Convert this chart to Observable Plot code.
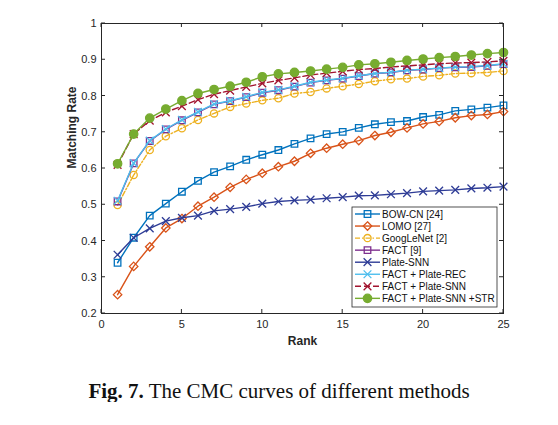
<!DOCTYPE html>
<html><head><meta charset="utf-8">
<script src="https://cdn.jsdelivr.net/npm/d3@7"></script>
<script src="https://cdn.jsdelivr.net/npm/@observablehq/plot@0.6"></script>
<style>
body{margin:0;background:#fff;}
#chart svg{display:block;}
#cap{font-family:"Liberation Serif","DejaVu Serif",serif;font-size:21px;line-height:21px;text-align:center;width:558px;padding-top:21px;color:#111;}
</style></head><body>
<div id="chart"></div>
<div id="cap"><b>Fig. 7.</b> The CMC curves of different methods</div>
<script>
const ranks = [1,2,3,4,5,6,7,8,9,10,11,12,13,14,15,16,17,18,19,20,21,22,23,24,25];
const methods = ["BOW-CN [24]","LOMO [27]","GoogLeNet [2]","FACT [9]","Plate-SNN","FACT + Plate-REC","FACT + Plate-SNN","FACT + Plate-SNN +STR"];
const bowcn = [0.340,0.409,0.470,0.503,0.536,0.566,0.590,0.606,0.624,0.638,0.651,0.668,0.683,0.695,0.701,0.712,0.722,0.728,0.731,0.742,0.748,0.759,0.763,0.768,0.774];
const lomo = [0.252,0.330,0.384,0.436,0.462,0.496,0.521,0.548,0.570,0.587,0.605,0.620,0.642,0.656,0.667,0.677,0.691,0.700,0.712,0.723,0.730,0.740,0.746,0.749,0.757];
const googlenet = [0.499,0.582,0.651,0.689,0.711,0.734,0.752,0.770,0.779,0.788,0.794,0.807,0.811,0.821,0.827,0.833,0.841,0.846,0.848,0.854,0.857,0.862,0.863,0.865,0.869];
const fact = [0.509,0.614,0.676,0.708,0.733,0.755,0.777,0.786,0.797,0.809,0.816,0.826,0.837,0.843,0.848,0.855,0.862,0.865,0.871,0.873,0.877,0.879,0.880,0.883,0.888];
const plateSNN = [0.362,0.409,0.435,0.455,0.464,0.470,0.483,0.488,0.494,0.503,0.509,0.512,0.514,0.518,0.521,0.525,0.526,0.529,0.532,0.537,0.539,0.541,0.545,0.547,0.550];
const factRec = [0.511,0.615,0.677,0.709,0.734,0.756,0.778,0.787,0.798,0.810,0.817,0.827,0.838,0.844,0.849,0.856,0.862,0.866,0.871,0.874,0.877,0.880,0.881,0.884,0.889];
const factSNN = [0.610,0.695,0.732,0.755,0.772,0.790,0.805,0.815,0.825,0.835,0.843,0.850,0.858,0.863,0.868,0.873,0.876,0.880,0.883,0.886,0.889,0.891,0.892,0.894,0.897];
const factSNNSTR = [0.613,0.695,0.739,0.764,0.787,0.807,0.818,0.827,0.838,0.853,0.861,0.865,0.869,0.874,0.879,0.886,0.889,0.893,0.898,0.902,0.906,0.909,0.913,0.917,0.920];
const xTicks = [0,5,10,15,20,25];
const yTicks = [0.2,0.3,0.4,0.5,0.6,0.7,0.8,0.9,1];

const seriesValues = [bowcn,lomo,googlenet,fact,plateSNN,factRec,factSNN,factSNNSTR];
const styles = [
  {stroke:"#0072BD", symbol:"square", fill:"none", r:3.7},
  {stroke:"#D95319", symbol:"diamond2", fill:"none", r:3.8},
  {stroke:"#EDB120", symbol:"circle", fill:"none", r:3.6, dash:"5,2,1.5,2"},
  {stroke:"#7E2F8E", symbol:"square", fill:"none", r:3.7},
  {stroke:"#2E3C96", symbol:"times", fill:"none", r:3.6},
  {stroke:"#4DBEEE", symbol:"times", fill:"none", r:3.6},
  {stroke:"#A2142F", symbol:"times", fill:"none", r:3.6, dash:"6,3"},
  {stroke:"#77AC30", symbol:"circle", fill:"#77AC30", r:4.2}
];

const series = methods.map((m,i) => ranks.map((r,j) => ({rank:r, value:seriesValues[i][j], method:m})));

const marks = [];
series.forEach((data,i) => {
  const s = styles[i];
  marks.push(Plot.line(data, {x:"rank", y:"value", stroke:s.stroke, strokeWidth:1.4, strokeDasharray:s.dash || null}));
  marks.push(Plot.dot(data, {x:"rank", y:"value", stroke:s.stroke, fill:s.fill, symbol:s.symbol, r:s.r, strokeWidth:1.3}));
});

const chart = Plot.plot({
  width:558, height:360,
  marginLeft:101, marginRight:55, marginTop:23, marginBottom:47,
  style:{fontFamily:"'Liberation Sans', Arial, sans-serif", fontSize:"11px", color:"#262626", background:"#fff"},
  x:{domain:[0,25], label:null},
  y:{domain:[0.2,1], label:null},
  marks:[
    Plot.axisX(xTicks, {tickSize:0, tickPadding:7, tickFormat:d=>String(d), fontSize:11, label:null}),
    Plot.axisY(yTicks, {tickSize:0, tickPadding:5, tickFormat:d=> d===1 ? "1" : d.toFixed(1), fontSize:11, label:null}),
    ...marks,
    Plot.frame({stroke:"#262626", strokeWidth:1}),
    Plot.text(["Rank"], {frameAnchor:"bottom", dy:31, fontWeight:"bold", fontSize:12, fill:"#262626"}),
    Plot.text(["Matching Rate"], {frameAnchor:"left", dx:-29, rotate:-90, fontWeight:"bold", fontSize:12, fill:"#262626"})
  ]
});
document.getElementById("chart").appendChild(chart);

// inward ticks using the chart's scales
const sx = chart.scale("x"), sy = chart.scale("y");
const svgSel = d3.select(chart);
const tg = svgSel.append("g").attr("stroke","#262626").attr("stroke-width",1);
const fTop = 23, fBottom = 360-47, fLeft = 101, fRight = 558-55, tl = 4;
xTicks.forEach(t => {
  const px = sx.apply(t);
  tg.append("line").attr("x1",px).attr("x2",px).attr("y1",fBottom).attr("y2",fBottom-tl);
  tg.append("line").attr("x1",px).attr("x2",px).attr("y1",fTop).attr("y2",fTop+tl);
});
yTicks.forEach(t => {
  const py = sy.apply(t);
  tg.append("line").attr("y1",py).attr("y2",py).attr("x1",fLeft).attr("x2",fLeft+tl);
  tg.append("line").attr("y1",py).attr("y2",py).attr("x1",fRight).attr("x2",fRight-tl);
});

// legend
const lg = svgSel.append("g").attr("transform","translate(352,207)").attr("text-anchor","start");
lg.append("rect").attr("width",145).attr("height",100).attr("fill","#fff").attr("stroke","#262626").attr("stroke-width",0.8);
const symMap = {square:d3.symbolSquare, diamond2:d3.symbolDiamond2, circle:d3.symbolCircle, times:d3.symbolTimes};
methods.forEach((m,i) => {
  const s = styles[i];
  const yy = 7 + i*12.05;
  const row = lg.append("g").attr("transform",`translate(0,${yy})`);
  row.append("line").attr("x1",3).attr("x2",28).attr("y1",0).attr("y2",0)
    .attr("stroke",s.stroke).attr("stroke-width",1.4).attr("stroke-dasharray",s.dash||null);
  row.append("path").attr("transform","translate(15.5,0)")
    .attr("d", d3.symbol(symMap[s.symbol], Math.PI*s.r*s.r)())
    .attr("stroke",s.stroke).attr("fill",s.fill).attr("stroke-width",1.3);
  row.append("text").attr("x",30).attr("y",0).attr("dy","0.35em").attr("text-anchor","start")
    .attr("font-family","'Liberation Sans', Arial, sans-serif").attr("font-size",10).attr("fill","#111").text(m);
});
</script>
</body></html>
